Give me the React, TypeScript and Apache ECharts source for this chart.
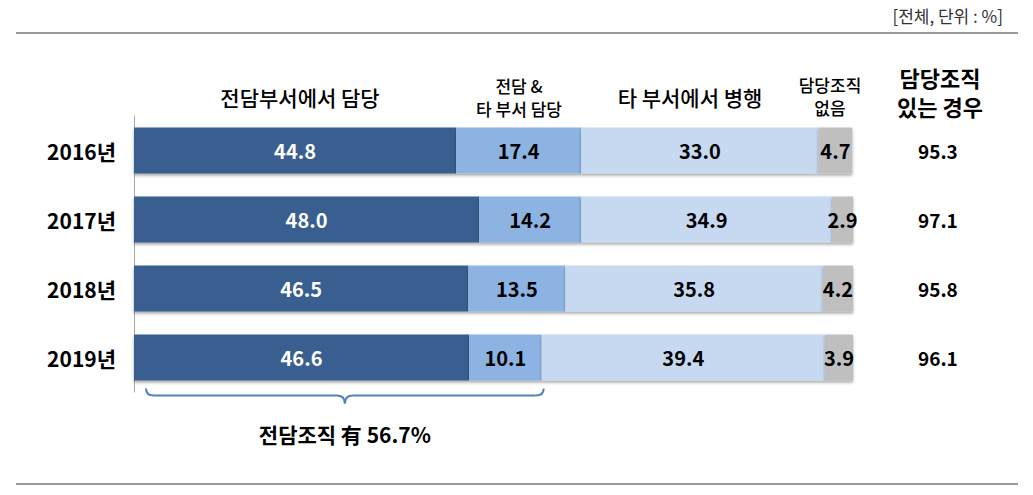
import React, { useEffect, useRef } from "react";
import * as echarts from "echarts";

const years = ["2016년", "2017년", "2018년", "2019년"];
const dedicated = [44.8, 48.0, 46.5, 46.6];
const shared = [17.4, 14.2, 13.5, 10.1];
const otherDept = [33.0, 34.9, 35.8, 39.4];
const none = [4.7, 2.9, 4.2, 3.9];
const hasOrg = ["95.3", "97.1", "95.8", "96.1"];
const braceLabel = "전담조직 有 56.7%";
const braceValue = 56.7;

const FONT = "'Noto Sans CJK KR', 'Noto Sans', sans-serif";

export default function App() {
  const ref = useRef<HTMLDivElement>(null);
  useEffect(() => {
    if (!ref.current) return;
    const chart = echarts.init(ref.current, undefined, { renderer: "svg" });
    const mkSeries = (name: string, data: number[], color: string, labelColor: string) => ({
      name,
      type: "bar",
      stack: "total",
      data,
      barWidth: 46,
      itemStyle: {
        color,
        shadowColor: "rgba(0,0,0,0.35)",
        shadowBlur: 3,
        shadowOffsetY: 2,
      },
      label: {
        show: true,
        position: "inside",
        color: labelColor,
        fontFamily: FONT,
        fontWeight: "bold",
        fontSize: 20,
        formatter: (p: any) => p.value.toFixed(1),
      },
    });
    chart.setOption({
      animation: false,
      textStyle: { fontFamily: FONT },
      grid: { left: 134, right: 180, top: 116, bottom: 103 },
      xAxis: { type: "value", min: 0, max: 100, show: false },
      yAxis: [
        {
          type: "category",
          data: years,
          inverse: true,
          axisLine: { show: true, lineStyle: { color: "#a6a6a6", width: 1 } },
          axisTick: { show: false },
          axisLabel: {
            margin: 18,
            color: "#000",
            fontFamily: FONT,
            fontWeight: "bold",
            fontSize: 21,
          },
        },
        {
          type: "category",
          data: hasOrg,
          inverse: true,
          position: "right",
          axisLine: { show: false },
          axisTick: { show: false },
          axisLabel: {
            margin: 65,
            align: "left",
            color: "#000",
            fontFamily: FONT,
            fontWeight: "bold",
            fontSize: 19,
          },
        },
      ],
      series: [
        mkSeries("전담부서에서 담당", dedicated, "#375f8f", "#ffffff"),
        mkSeries("전담 & 타 부서 담당", shared, "#8db3e2", "#000000"),
        mkSeries("타 부서에서 병행", otherDept, "#c6d9f1", "#000000"),
        mkSeries("담당조직 없음", none, "#bfbfbf", "#000000"),
      ],
    });

    const [x0] = chart.convertToPixel({ xAxisIndex: 0, yAxisIndex: 0 }, [0, 3]) as number[];
    const [x1, yLast] = chart.convertToPixel({ xAxisIndex: 0, yAxisIndex: 0 }, [braceValue, 3]) as number[];
    const bl = x0 + 12;
    const br = x1 + 2;
    const bm = (bl + br) / 2;
    const yt = yLast + 31;
    const yl = yt + 7;
    const yp = yt + 15;
    const bs = { stroke: "#4f81bd", lineWidth: 2, fill: "none" };

    const headerStyle = (size: number, weight: any = "normal") => ({
      fontFamily: FONT,
      fontSize: size,
      fontWeight: weight,
      fill: "#000",
      align: "center",
      verticalAlign: "middle",
    });
    const t = (text: string, x: number, y: number, size: number, weight: any = 500) => ({
      type: "text",
      x,
      y,
      style: { text, ...headerStyle(size, weight) },
    });

    chart.setOption({
      graphic: [
        { type: "text", x: 1003, y: 15, style: { text: "[전체, 단위 : %]", fontFamily: FONT, fontSize: 17, fill: "#333", align: "right", verticalAlign: "middle" } },
        { type: "line", shape: { x1: 16, y1: 33, x2: 1018, y2: 33 }, style: { stroke: "#999", lineWidth: 2 } },
        { type: "line", shape: { x1: 16, y1: 484, x2: 1018, y2: 484 }, style: { stroke: "#999", lineWidth: 2 } },
        t("전담부서에서 담당", 300, 97, 21),
        t("전담 &", 519, 85, 17),
        t("타 부서 담당", 519, 108, 17),
        t("타 부서에서 병행", 690, 97, 21),
        t("담당조직", 830, 84, 17),
        t("없음", 830, 107, 17),
        t("담당조직", 940, 77, 22, "bold"),
        t("있는 경우", 940, 106, 22, "bold"),
        { type: "bezierCurve", shape: { x1: bl, y1: yt, x2: bl + 8, y2: yl, cpx1: bl, cpy1: yl }, style: bs },
        { type: "line", shape: { x1: bl + 8, y1: yl, x2: bm - 8, y2: yl }, style: bs },
        { type: "bezierCurve", shape: { x1: bm - 8, y1: yl, x2: bm, y2: yp, cpx1: bm, cpy1: yl }, style: bs },
        { type: "bezierCurve", shape: { x1: bm, y1: yp, x2: bm + 8, y2: yl, cpx1: bm, cpy1: yl }, style: bs },
        { type: "line", shape: { x1: bm + 8, y1: yl, x2: br - 8, y2: yl }, style: bs },
        { type: "bezierCurve", shape: { x1: br - 8, y1: yl, x2: br, y2: yt, cpx1: br, cpy1: yl }, style: bs },
        t(braceLabel, bm, yp + 30, 21, "bold"),
      ],
    });
    return () => chart.dispose();
  }, []);
  return <div ref={ref} style={{ width: 1033, height: 495, margin: -8 }} />;
}
